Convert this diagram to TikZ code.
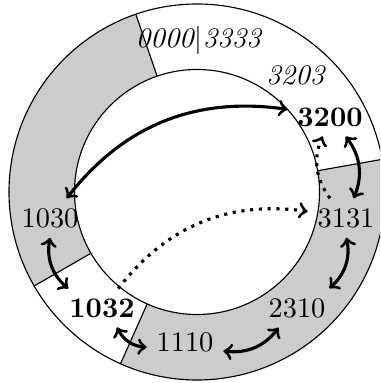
\documentclass[tikz,border=0pt]{standalone}
\begin{document}
\begin{tikzpicture}[x=0.353pt,y=0.353pt,
  ringfill/.style={fill=gray!40},
  ringline/.style={draw=black},
  lbl/.style={inner sep=0.3333em},
  conn/.style={<->,line width=1.1pt,bend left=30},
  jump/.style={->,line width=1.1pt,dotted,bend left=30}]
\useasboundingbox (0,0) rectangle (380,383);
\clip (0,0) rectangle (380,383);
\begin{scope}[shift={(197,191)}]
  \fill[ringfill] (109:188) arc[start angle=109,end angle=210,radius=188]
     -- (210:122.5) arc[start angle=210,end angle=109,radius=122.5] -- cycle;
  \fill[ringfill] (246:188) arc[start angle=246,end angle=370,radius=188]
     -- (370:122.5) arc[start angle=370,end angle=246,radius=122.5] -- cycle;
  \draw[ringline] (0,0) circle[radius=188];
  \draw[ringline] (0,0) circle[radius=122.5];
  \foreach \a in {10,109,210,246}
    \draw[ringline] (\a:122.5) -- (\a:188);
\end{scope}
\node[anchor=base] (t0) at (199,335) {\textit{0000}$|$\textit{3333}};
\node (t3203) at (296,308) {\textit{3203}};
\node[lbl] (n3200) at (330,266) {\textbf{3200}};
\node[lbl] (n3131) at (346,165) {3131};
\node[lbl] (n2310) at (297,75) {2310};
\node[lbl] (n1110) at (185,41) {1110};
\node[lbl] (n1032) at (102,75) {\textbf{1032}};
\node[lbl] (n1030) at (50,165) {1030};
\draw[conn] (n1030) to (n3200);
\draw[conn] (n3200) to (n3131);
\draw[conn] (n3131) to (n2310);
\draw[conn] (n2310) to (n1110);
\draw[conn] (n1110) to (n1032);
\draw[conn] (n1032) to (n1030);
\draw[jump] (n1032) to (n3131);
\draw[jump] (n3131) to (n3200);
\end{tikzpicture}
\end{document}
